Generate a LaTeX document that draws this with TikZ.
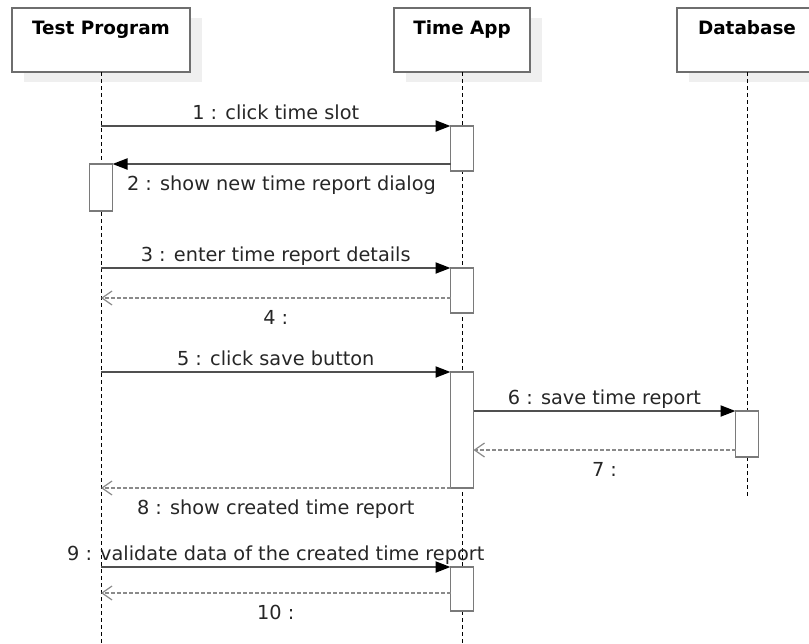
\documentclass[tikz,border=0pt]{standalone}
\usepackage{fontspec}
\setmainfont{DejaVu Sans}
\usetikzlibrary{arrows.meta,shadows,calc}
\definecolor{msgline}{HTML}{505050}
\definecolor{retline}{HTML}{8A8A8A}
\definecolor{boxline}{HTML}{6E6E6E}
\definecolor{actline}{HTML}{7A7A7A}
\definecolor{shade}{HTML}{EFEFEF}
\tikzset{
  head/.style={draw=boxline, line width=1.8pt, fill=white, minimum height=64pt,
    inner sep=0pt, outer sep=0pt,
    drop shadow={shadow xshift=12pt, shadow yshift=-10pt, fill=shade, opacity=1}},
  headtext/.style={font=\fontsize{18.4}{22}\selectfont\bfseries, anchor=base, inner sep=0pt},
  life/.style={line width=1pt, dash pattern=on 4pt off 3pt},
  act/.style={draw=actline, line width=1.9pt, fill=white, minimum width=23pt,
    anchor=north, inner sep=0pt, outer sep=0pt},
  call/.style={draw=msgline, line width=2pt,
    -{Triangle[length=15pt,width=11pt,color=black]}},
  reply/.style={draw=retline, line width=2pt, dash pattern=on 3.5pt off 2.5pt,
    -{Straight Barb[length=10pt,width=14pt,line width=1.2pt]}},
  msgtext/.style={font=\fontsize{19.3}{23}\selectfont, text=black!85, inner sep=0pt, anchor=base},
  labup/.style={msgtext, yshift=7pt},
  labdown/.style={msgtext, yshift=-26pt},
}
\begin{document}
\begin{tikzpicture}[x=1pt,y=-1pt]
\useasboundingbox (0,0) rectangle (809,643);
\clip (0,0) rectangle (809,643);

% participants
\node[head, minimum width=178pt] (tp) at (101,40) {};
\node[head, minimum width=136pt] (ta) at (462,40) {};
\node[head, minimum width=140pt] (db) at (747,40) {};
\node[headtext] at ($(tp.north)+(0,26)$) {Test Program};
\node[headtext] at ($(ta.north)+(0,26)$) {Time App};
\node[headtext] at ($(db.north)+(0,26)$) {Database};

% lifelines
\coordinate (tpend) at (tp.south |- 0,643);
\coordinate (taend) at (ta.south |- 0,643);
\coordinate (dbend) at (db.south |- 0,497);
\draw[life] (tp.south) -- (tpend);
\draw[life] (ta.south) -- (taend);
\draw[life] (db.south) -- (dbend);

% activation bars
\node[act, minimum height=45pt]  (a1) at (462,126) {};
\node[act, minimum height=47pt]  (b1) at (101,164) {};
\node[act, minimum height=45pt]  (a2) at (462,268) {};
\node[act, minimum height=116pt] (a3) at (462,372) {};
\node[act, minimum height=46pt]  (d1) at (747,411) {};
\node[act, minimum height=44pt]  (a4) at (462,567) {};

% message end points on the lifelines
\coordinate (s1) at (tp.south |- 0,126);
\coordinate (s3) at (tp.south |- 0,268);
\coordinate (r4) at (tp.south |- 0,298);
\coordinate (s5) at (tp.south |- 0,372);
\coordinate (r7) at (a3.east |- 0,450);
\coordinate (r8) at (tp.south |- 0,488);
\coordinate (s9) at (tp.south |- 0,567);
\coordinate (r10) at (tp.south |- 0,593);

% messages
\draw[call] (s1) -- node[labup] {1 : click time slot} (a1.north west);
\draw[call] (a1.west |- b1.north) -- node[labdown] {2 : show new time report dialog} (b1.north east);
\draw[call] (s3) -- node[labup] {3 : enter time report details} (a2.north west);
\draw[reply] (a2.west |- r4) -- node[labdown] {4 :} (r4);
\draw[call] (s5) -- node[labup] {5 : click save button} (a3.north west);
\draw[call] (a3.east |- d1.north) -- node[labup] {6 : save time report} (d1.north west);
\draw[reply] (d1.west |- r7) -- node[labdown] {7 :} (r7);
\draw[reply] (a3.south west) -- node[labdown] {8 : show created time report} (r8);
\draw[call] (s9) -- node[labup] {9 : validate data of the created time report} (a4.north west);
\draw[reply] (a4.west |- r10) -- node[labdown] {10 :} (r10);
\end{tikzpicture}
\end{document}
